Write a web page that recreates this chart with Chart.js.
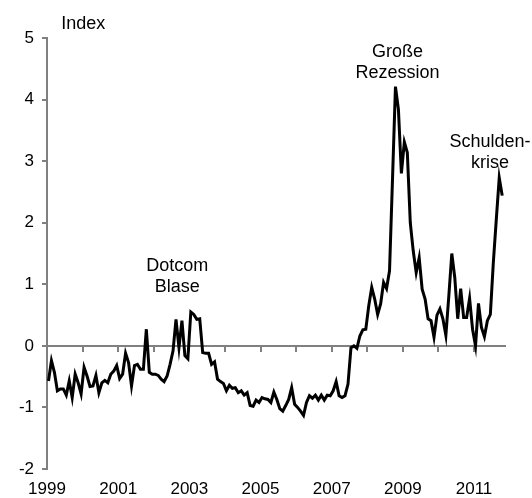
<!DOCTYPE html>
<html>
<head>
<meta charset="utf-8">
<script src="https://cdn.jsdelivr.net/npm/chart.js@4.4.1/dist/chart.umd.min.js"></script>
<style>
body{margin:0;background:#fff}
#wrap{width:532px;height:498px}
</style>
</head>
<body>
<div id="wrap"><canvas id="c"></canvas></div>
<script>
// monthly index values, Jan 1999 .. Oct 2011
var startYear = 1999;
var values = [
-0.57,-0.24,-0.43,-0.73,-0.70,-0.70,-0.80,-0.57,-0.84,-0.46,-0.60,-0.78,
-0.35,-0.49,-0.66,-0.65,-0.48,-0.76,-0.60,-0.56,-0.60,-0.46,-0.41,-0.32,
-0.53,-0.46,-0.12,-0.27,-0.65,-0.32,-0.30,-0.38,-0.38,0.27,-0.43,-0.46,
-0.46,-0.48,-0.54,-0.58,-0.49,-0.30,-0.08,0.43,-0.03,0.41,-0.16,-0.21,
0.55,0.51,0.43,0.44,-0.11,-0.12,-0.12,-0.30,-0.26,-0.54,-0.58,-0.61,
-0.73,-0.64,-0.69,-0.68,-0.76,-0.73,-0.80,-0.76,-0.97,-0.98,-0.88,-0.92,
-0.84,-0.86,-0.87,-0.92,-0.75,-0.87,-1.02,-1.06,-0.97,-0.87,-0.68,-0.95,
-1.00,-1.06,-1.13,-0.92,-0.81,-0.85,-0.80,-0.88,-0.80,-0.88,-0.80,-0.81,
-0.73,-0.58,-0.81,-0.84,-0.81,-0.62,-0.03,0.00,-0.04,0.16,0.26,0.27,
0.65,0.95,0.76,0.51,0.68,1.03,0.93,1.22,2.70,4.21,3.84,2.80,
3.31,3.14,2.00,1.54,1.19,1.43,0.92,0.76,0.44,0.41,0.14,0.50,
0.60,0.44,0.17,0.81,1.50,1.11,0.44,0.93,0.46,0.46,0.77,0.27,
0.00,0.69,0.30,0.15,0.41,0.51,1.35,2.05,2.73,2.44
];
var yTicks = [-2,-1,0,1,2,3,4,5];
var yearLabels = [1999,2001,2003,2005,2007,2009,2011];

// annotations: text lines, x in years, y in index units (first line)
var noteText = [['Dotcom','Blase'],['Große','Rezession'],['Schulden-','krise'],['Index']];
var noteX = [2002.66, 2008.85, 2011.45, 2000.02];
var noteY = [1.29, 4.78, 3.31, 5.22];

var pts = values.map(function(v,i){ return {x: startYear + (i+0.5)/12, y: v}; });

var gray = '#808080';
var font = 'Liberation Sans, Arial, sans-serif';

var notes = {
  id:'notes',
  afterDraw:function(chart){
    var c = chart.ctx, sx = chart.scales.x, sy = chart.scales.y;
    c.save();
    c.fillStyle = '#000';
    c.font = '18px ' + font;
    c.textAlign = 'center';
    c.textBaseline = 'middle';
    noteText.forEach(function(lines,k){
      var px = sx.getPixelForValue(noteX[k]);
      var py = sy.getPixelForValue(noteY[k]);
      lines.forEach(function(t,j){ c.fillText(t, px, py + j*21); });
    });
    c.restore();
  }
};

new Chart(document.getElementById('c'), {
  type:'line',
  data:{datasets:[{
    data: pts,
    borderColor:'#000',
    borderWidth:3,
    pointRadius:0,
    tension:0,
    fill:false,
    xAxisID:'x',
    yAxisID:'y'
  }]},
  options:{
    responsive:true,
    maintainAspectRatio:false,
    animation:false,
    layout:{padding:{top:38,right:27,left:0,bottom:0}},
    plugins:{legend:{display:false},tooltip:{enabled:false}},
    scales:{
      x:{
        type:'linear',
        position:'bottom',
        min:startYear,
        max:2011.87,
        afterBuildTicks:function(s){ s.ticks = yearLabels.map(function(v){return {value:v};}); },
        afterFit:function(s){ s.height = 29; },
        grid:{display:false},
        border:{display:false},
        ticks:{color:'#000',font:{size:17,family:font},padding:2,maxRotation:0,autoSkip:false,
          callback:function(v){ return String(v); }}
      },
      x0:{
        type:'linear',
        position:{y:0},
        min:startYear,
        max:2011.87,
        afterBuildTicks:function(s){
          var t=[]; for(var yr=startYear; yr<=2011; yr++) t.push({value:yr});
          s.ticks=t;
        },
        grid:{drawOnChartArea:false,drawTicks:true,tickLength:5,color:gray,lineWidth:2},
        border:{color:gray,width:2},
        ticks:{display:false}
      },
      y:{
        min:-2,
        max:5,
        afterBuildTicks:function(s){ s.ticks = yTicks.map(function(v){return {value:v};}); },
        afterFit:function(s){ s.width = 47; },
        grid:{drawOnChartArea:false,drawTicks:true,tickLength:5,color:gray,lineWidth:2},
        border:{color:gray,width:2},
        ticks:{color:'#000',font:{size:17,family:font},padding:8}
      }
    }
  },
  plugins:[notes]
});
</script>
</body>
</html>
